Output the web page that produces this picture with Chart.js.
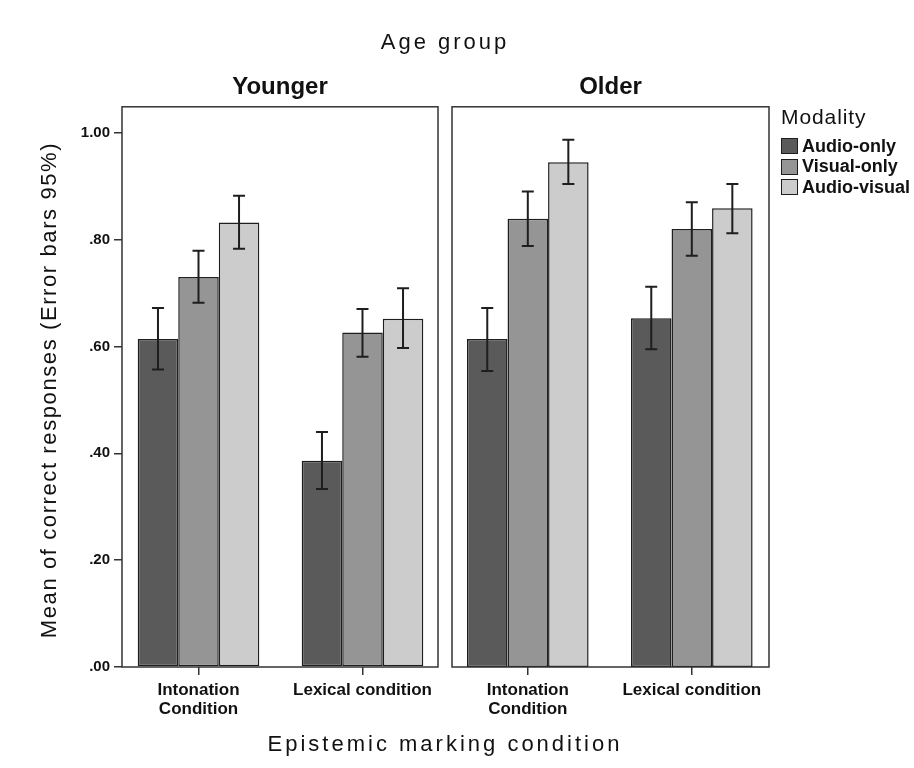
<!DOCTYPE html>
<html>
<head>
<meta charset="utf-8">
<script src="https://cdn.jsdelivr.net/npm/chart.js@4.4.1/dist/chart.umd.min.js"></script>
<style>
  html, body { margin: 0; padding: 0; background: #fff; overflow: hidden; }
  #wrap { position: relative; width: 914px; height: 768px; font-family: 'Liberation Sans', Arial, sans-serif; color: #111; }
  canvas { position: absolute; top: 0; }
  .txt { position: absolute; white-space: nowrap; text-align: center; }
  #ageTitle { left: 245px; width: 400px; top: 27px; height: 30px; line-height: 30px; font-size: 22px; letter-spacing: 3px; }
  #xTitle { left: 245px; width: 400px; top: 729px; height: 30px; line-height: 30px; font-size: 22px; letter-spacing: 3px; }
  #yTitle { left: -251px; width: 600px; top: 375px; height: 30px; line-height: 30px; font-size: 22px; letter-spacing: 1.6px; transform: rotate(-90deg); }
  #legend { position: absolute; left: 781px; top: 105px; }
  #legend .head { font-size: 21px; letter-spacing: 0.9px; line-height: 24px; margin-bottom: 7px; }
  #legend .row { display: flex; align-items: center; height: 20.5px; font-size: 18px; font-weight: bold; }
  #legend .sw { width: 15px; height: 14px; border: 1px solid #1e1e1e; margin-right: 4px; }
</style>
</head>
<body>
<div id="wrap">
  <canvas id="younger" width="444" height="768" style="left:0px;width:444px;height:768px"></canvas>
  <canvas id="older" width="468" height="768" style="left:446px;width:468px;height:768px"></canvas>
  <div class="txt" id="ageTitle">Age group</div>
  <div class="txt" id="yTitle">Mean of correct responses (Error bars 95%)</div>
  <div class="txt" id="xTitle">Epistemic marking condition</div>
  <div id="legend"><div class="head">Modality</div></div>
</div>
<script>
const categories = [['Intonation', 'Condition'], 'Lexical condition'];
const modalities = ['Audio-only', 'Visual-only', 'Audio-visual'];
const yTicks = [0, 0.2, 0.4, 0.6, 0.8, 1.0];

// mean proportion correct, one value per category
const youngerAudioOnly = [0.614, 0.386];
const youngerVisualOnly = [0.730, 0.626];
const youngerAudioVisual = [0.832, 0.652];
const olderAudioOnly = [0.614, 0.653];
const olderVisualOnly = [0.839, 0.820];
const olderAudioVisual = [0.945, 0.859];

// 95% CI as [low, high]
const youngerAudioOnlyCI = [[0.557, 0.672], [0.333, 0.440]];
const youngerVisualOnlyCI = [[0.682, 0.779], [0.581, 0.670]];
const youngerAudioVisualCI = [[0.783, 0.882], [0.597, 0.709]];
const olderAudioOnlyCI = [[0.554, 0.672], [0.595, 0.712]];
const olderVisualOnlyCI = [[0.788, 0.890], [0.770, 0.870]];
const olderAudioVisualCI = [[0.904, 0.987], [0.812, 0.904]];

const fills = ['#5a5a5a', '#959595', '#cccccc'];
const ink = '#1e1e1e';
const fontFamily = "'Liberation Sans', Arial, sans-serif";

function makeDatasets(series, cis) {
  return series.map((vals, s) => ({
    label: modalities[s],
    data: vals.map((v, i) => ({ x: i, y: v })),
    ci: cis[s],
    backgroundColor: fills[s],
    borderColor: ink,
    borderWidth: 1.5,
    borderSkipped: false,
    categoryPercentage: 0.7415,
    barPercentage: 1
  }));
}

// error bars + panel frame
const errorBars = {
  id: 'errorBars',
  afterDatasetsDraw(chart) {
    const { ctx, chartArea: a } = chart;
    const y = chart.scales.y;
    ctx.save();
    ctx.strokeStyle = ink;
    ctx.lineWidth = 2;
    chart.data.datasets.forEach((ds, di) => {
      chart.getDatasetMeta(di).data.forEach((bar, i) => {
        const lo = y.getPixelForValue(ds.ci[i][0]);
        const hi = y.getPixelForValue(ds.ci[i][1]);
        ctx.beginPath();
        ctx.moveTo(bar.x, lo); ctx.lineTo(bar.x, hi);
        ctx.moveTo(bar.x - 6, lo); ctx.lineTo(bar.x + 6, lo);
        ctx.moveTo(bar.x - 6, hi); ctx.lineTo(bar.x + 6, hi);
        ctx.stroke();
      });
    });
    ctx.strokeStyle = '#333';
    ctx.lineWidth = 1.5;
    ctx.strokeRect(a.left, a.top, a.right - a.left, a.bottom - a.top);
    ctx.restore();
  }
};

function panelOptions(title, xMin, xMax, showY) {
  return {
    responsive: false,
    animation: false,
    layout: { padding: { top: 73, bottom: 0, left: showY ? 0 : 6, right: showY ? 6 : 145 } },
    plugins: {
      legend: { display: false },
      tooltip: { enabled: false },
      title: {
        display: true, text: title, fullSize: false, color: '#111',
        font: { family: fontFamily, size: 24, weight: 'bold', lineHeight: 1.2 },
        padding: { top: 0, bottom: 5 }
      }
    },
    scales: {
      x: {
        type: 'linear', min: xMin, max: xMax, offset: false,
        afterBuildTicks: ax => { ax.ticks = categories.map((c, i) => ({ value: i })); },
        afterFit: ax => { ax.height = 101; },
        grid: { offset: false, drawOnChartArea: false, tickLength: 8, color: '#333', lineWidth: 1.5 },
        border: { display: false },
        ticks: {
          callback: v => categories[v],
          color: '#111', padding: 6, maxRotation: 0, autoSkip: false,
          font: { family: fontFamily, size: 17, weight: 'bold', lineHeight: 1.1 }
        }
      },
      y: {
        display: showY, min: 0, max: 1.0487,
        afterBuildTicks: ax => { ax.ticks = yTicks.map(v => ({ value: v })); },
        afterFit: ax => { ax.width = showY ? 122 : 0; },
        grid: { drawOnChartArea: false, tickLength: 8, color: '#333', lineWidth: 1.5 },
        border: { display: false },
        ticks: {
          callback: v => (v >= 1 ? v.toFixed(2) : v.toFixed(2).replace(/^0/, '')),
          color: '#111', padding: 4,
          font: { family: fontFamily, size: 15, weight: 'bold' }
        }
      }
    }
  };
}

new Chart(document.getElementById('younger'), {
  type: 'bar',
  data: { datasets: makeDatasets(
    [youngerAudioOnly, youngerVisualOnly, youngerAudioVisual],
    [youngerAudioOnlyCI, youngerVisualOnlyCI, youngerAudioVisualCI]) },
  options: panelOptions('Younger', -0.4665, 1.4604, true),
  plugins: [errorBars]
});

new Chart(document.getElementById('older'), {
  type: 'bar',
  data: { datasets: makeDatasets(
    [olderAudioOnly, olderVisualOnly, olderAudioVisual],
    [olderAudioOnlyCI, olderVisualOnlyCI, olderAudioVisualCI]) },
  options: panelOptions('Older', -0.4622, 1.4707, false),
  plugins: [errorBars]
});

// legend built from the same series names and fills
const legend = document.getElementById('legend');
modalities.forEach((name, i) => {
  const row = document.createElement('div');
  row.className = 'row';
  row.innerHTML = '<span class="sw" style="background:' + fills[i] + '"></span>' + name;
  legend.appendChild(row);
});
</script>
</body>
</html>
